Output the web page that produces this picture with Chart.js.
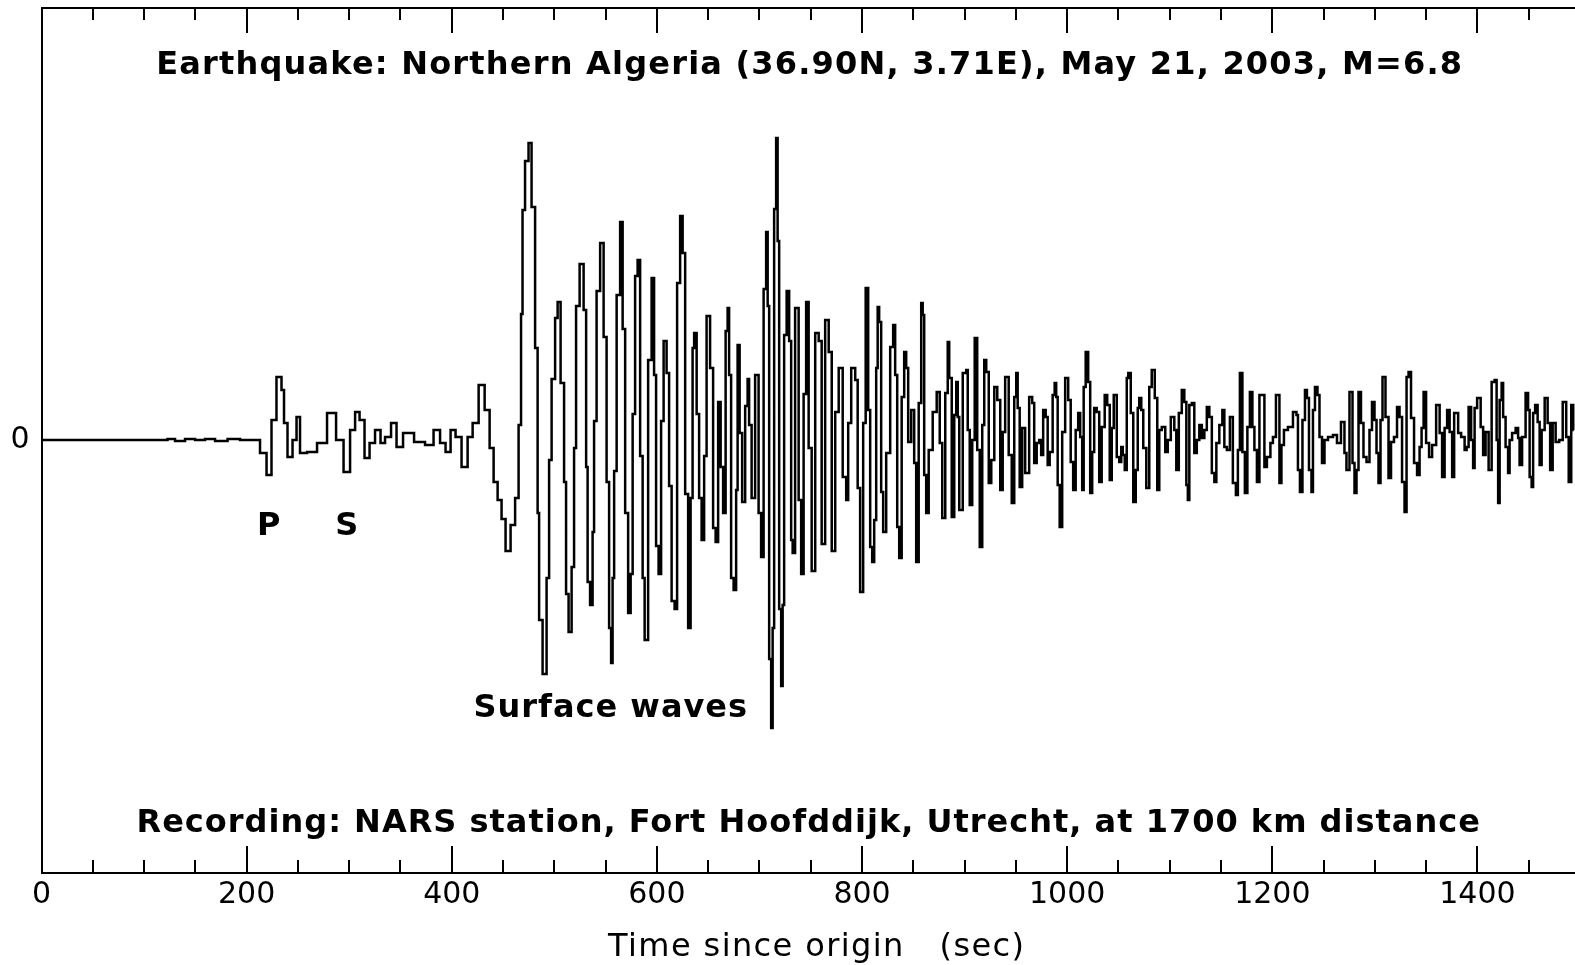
<!DOCTYPE html>
<html>
<head>
<meta charset="utf-8">
<script src="https://cdn.jsdelivr.net/npm/chart.js@4.4.0/dist/chart.umd.min.js"></script>
<style>
  html, body { margin: 0; padding: 0; background: #fff; overflow: hidden; }
  #wrap { width: 1600px; height: 965px; }
</style>
</head>
<body>
<div id="wrap"><canvas id="seismo" width="1600" height="965"></canvas></div>
<script>
// axis ranges (seconds since origin, trace amplitude in counts)
const timeMin = 0;
const timeMax = 1500;
const minorStep = 50;
const majorStep = 200;
const ampMin = -433;
const ampMax = 432;

// [time s, amplitude]
const quietRecord = [
  [0,0],[120.4,0],[125.3,1],[135.1,-1],[144.8,1],[154.6,0],[164.3,1],[174.1,-1],[188.7,1],[198.4,0],[210.1,0]
];

const bodyWaves = [
  [216.0,-13],[222.8,-35],[225.7,20],[232.5,63],[235.5,50],[237.4,17],[242.3,-17],[247.2,0],[250.1,23],[254.0,-13],
  [263.8,-12],[273.5,-3],[283.3,27],[291.1,0],[297.9,-32],[303.8,10],[307.7,28],[312.5,20],[317.4,-18],[322.3,-3],
  [328.1,10],[333.0,-3],[336.9,3],[344.7,17],[347.6,-7],[357.4,7],[369.1,-2],[378.8,-5],[385.7,10],[391.5,-3],
  [396.4,-12],[401.3,10],[406.1,3],[413.0,-27],[417.9,3],[422.8,17],[429.6,55],[434.5,30],[439.3,-8],[442.3,-42],
  [447.1,-60],[450.0,-79],[454.9,-111],[459.8,-85],[463.7,-58]
];

const surfaceWaves = [
  [466.6,15],[468.5,126],[469.5,230],[473.4,279],[476.3,297],[479.3,233],[483.2,92],[484.2,-73],[486.1,-180],[491.0,-234],
  [493.9,-138],[495.9,-20],[498.8,61],[502.7,122],[503.7,138],[508.5,57],[510.5,-42],[512.4,-154],[515.4,-192],[518.3,-127],
  [520.2,-8],[522.2,134],[527.1,176],[530.0,130],[532.0,-27],[532.9,-142],[536.8,-165],[537.8,-92],[539.7,19],[542.7,149],
  [546.6,197],[549.5,103],[552.4,-42],[554.4,-188],[556.3,-223],[557.3,-138],[559.3,-31],[562.2,145],[566.1,218],[567.1,111],
  [571.0,-73],[572.9,-173],[575.9,-134],[576.8,26],[580.7,164],[581.7,180],[585.6,-16],[586.6,-138],[589.5,-200],[593.4,80],
  [596.3,162],[598.2,65],[600.2,-106],[603.1,-134],[605.1,19],[608.0,99],[610.9,67],[612.9,-46],[615.8,-161],[618.7,-169],
  [620.7,157],[624.6,224],[625.6,187],[629.5,-54],[631.4,-188],[634.3,-58],[635.3,92],[637.3,107],[640.2,26],[642.1,-58],
  [645.1,-100],[647.0,-16],[649.9,124],[653.8,72],[655.8,-88],[658.7,-102],[660.7,38],[663.6,-27],[665.5,-73],[668.5,109],
  [669.4,132],[671.4,65],[673.3,-138],[676.3,-150],[678.2,-50],[679.2,95],[682.1,7],[684.1,-62],[688.0,34],[688.9,61],
  [690.9,15],[693.8,-58],[697.7,65],[700.6,-73],[702.6,-117],[705.5,151],[707.5,208],[708.5,134],[710.4,-219],[712.4,-288],
  [713.3,-188],[715.3,231],[717.2,302],[718.2,199],[720.2,-169],[722.1,-246],[723.1,-165],[725.0,105],[728.0,149],[729.9,99],
  [731.9,-100],[732.8,-113],[736.7,132],[739.7,-60],[741.6,-134],[744.5,46],[746.5,138],[749.4,-8],[752.4,-131],[756.3,107],
  [759.2,99],[762.1,-104],[766.0,120],[769.0,88],[771.9,-111],[775.8,28]
];

const codaEarly = [
  [778.7,72],[783.6,-37],[785.5,-60],[787.5,17],[791.4,72],[795.3,60],[796.2,-48],[800.1,-152],[802.1,17],[805.0,152],
  [807.0,30],[808.9,-107],[810.9,-122],[812.8,-80],[814.8,72],[815.7,133],[817.7,118],[819.6,-52],[821.6,-92],[825.5,-13],
  [829.4,93],[831.3,115],[833.3,65],[835.3,-87],[837.2,-118],[840.1,43],[842.1,88],[844.0,72],[846.0,-2],[849.9,30],
  [851.8,-23],[853.8,-122],[856.7,37],[858.7,137],[859.6,125],[861.6,-35],[863.5,-73],[866.5,-10],[871.3,28],[874.3,48],
  [877.2,-3],[879.2,-78],[883.1,47],[884.0,98],[886.0,62],[888.9,-77],[890.9,25],[892.8,58],[893.8,23],[895.8,-70],
  [900.6,67],[902.6,70],[903.5,10],[906.5,-65],[908.4,0],[911.3,102],[913.3,-10],[916.2,-107],[918.2,15],[920.1,80],
  [922.1,68],[925.0,-43],[927.0,-20],[930.9,53],[932.8,40],[936.7,-50],[937.6,8],[941.5,63],[944.5,-15],[947.4,-63],
  [949.4,43],[951.3,67],[952.2,32],[955.2,-47],[957.1,12],[961.0,-33],[964.9,43],[966.9,37],[968.8,-23],[971.8,-3]
];

const codaLate = [
  [973.7,0],[975.6,-15],[977.6,30],[980.5,23],[981.5,-25],[984.4,-12],[987.3,45],[988.3,57],[990.3,43],[991.2,-45],
  [994.2,-87],[996.1,8],[1000.0,62],[1002.0,40],[1004.9,-22],[1006.8,-50],[1009.8,10],[1011.7,27],[1013.7,3],[1015.6,-50],
  [1016.6,53],[1019.5,88],[1021.5,58],[1023.4,-53],[1025.4,-12],[1027.3,32],[1030.3,28],[1032.2,-42],[1035.1,13],[1038.1,45],
  [1040.0,35],[1043.0,-40],[1043.9,12],[1046.9,45],[1049.8,-17],[1051.8,-22],[1053.7,-7],[1054.7,-15],[1057.6,-30],[1058.6,62],
  [1060.5,67],[1063.5,27],[1065.4,-62],[1068.3,-30],[1069.3,32],[1071.3,42],[1073.2,30],[1075.2,-8],[1079.1,-48],[1081.0,53],
  [1083.9,70],[1086.9,42],[1088.8,-50],[1090.8,10],[1093.7,13],[1097.6,-12],[1098.6,0],[1103.5,23],[1105.4,10],[1107.4,-30],
  [1110.3,27],[1113.2,50],[1115.2,38],[1117.2,-45],[1118.1,-60],[1120.1,35],[1123.0,37],[1124.9,-13],[1127.9,0],[1129.8,15],
  [1132.8,2],[1134.7,10],[1137.6,33],[1139.6,23],[1142.5,-33],[1144.5,-42],[1146.4,-3],[1150.3,15],[1152.3,30],[1154.2,-7],
  [1157.2,-10],[1160.1,23],[1163.0,-43],[1166.0,-55],[1166.9,-10],[1169.9,67],[1171.8,-12],[1174.7,-53],[1176.7,13],[1179.6,48],
  [1181.6,13],[1183.5,-10],[1186.5,-42],[1188.4,45],[1191.3,45],[1193.3,-27],[1196.2,-17],[1200.1,-3],[1201.1,3],[1206.0,45],
  [1207.9,-43],[1209.9,-5],[1212.8,10],[1217.7,13],[1222.6,28],[1224.5,25],[1225.5,-30],[1228.4,-52],[1230.4,20],[1233.3,50],
  [1234.3,42],[1237.2,-30],[1239.2,-52],[1240.1,30],[1243.1,53],[1245.0,45],[1247.0,3],[1249.9,-23],[1251.9,0],[1256.7,3],
  [1261.6,5],[1264.5,-3],[1269.4,18],[1271.3,-13],[1273.3,-30],[1277.2,48],[1279.2,-23],[1281.1,-53],[1283.1,-30],[1285.0,48],
  [1287.9,17],[1289.9,-17],[1293.8,-22],[1295.7,10],[1298.7,38],[1300.6,20],[1302.6,-13],[1304.5,-43],[1306.5,20],[1308.4,63],
  [1312.3,23],[1314.3,-38],[1317.2,-2],[1320.1,3],[1323.1,33],[1325.0,23],[1328.0,-42],[1329.9,-72],[1331.9,63],[1333.8,68],
  [1336.7,22],[1339.7,-23],[1342.6,-35],[1344.6,-7],[1346.5,12],[1348.5,48],[1351.4,-3],[1354.3,-17],[1357.3,-5],[1362.2,35],
  [1364.1,7],[1367.0,-37],[1369.0,12],[1371.9,30],[1373.9,8],[1376.8,-37],[1377.8,27],[1380.7,27],[1381.7,7],[1386.5,3],
  [1388.5,-10],[1390.4,-7],[1392.4,33],[1395.3,0],[1396.3,-28],[1398.2,32],[1401.2,42],[1405.1,13],[1406.0,-15],[1409.9,8],
  [1411.9,-30],[1415.8,58],[1417.7,60],[1419.7,0],[1420.7,-63],[1422.6,40],[1424.6,57],[1425.5,23],[1429.4,-7],[1430.4,-33],
  [1432.3,0],[1435.3,7],[1439.2,12],[1440.1,2],[1442.1,-25],[1445.0,3],[1448.9,47],[1449.9,30],[1451.9,-37],[1453.8,-47],
  [1454.8,27],[1457.7,35],[1459.7,18],[1461.6,-25],[1463.6,10],[1467.5,42],[1469.4,17],[1472.4,-30],[1474.3,17],[1478.2,-2],
  [1481.2,0],[1485.1,38],[1488.0,3],[1490.0,-42],[1492.9,35],[1493.9,10]
];

const titleText = 'Earthquake: Northern Algeria (36.90N, 3.71E), May 21, 2003, M=6.8';
const captionText = 'Recording: NARS station, Fort Hoofddijk, Utrecht, at 1700 km distance';
const axisTitle = 'Time since origin   (sec)';
const phaseNotes = ['P', 'S', 'Surface waves'];

const trace = [...quietRecord, ...bodyWaves, ...surfaceWaves, ...codaEarly, ...codaLate]
  .map(p => ({ x: p[0], y: p[1] }));

// inward tick marks, headings and phase labels
const frame = {
  id: 'frame',
  afterDraw(chart) {
    const { ctx, chartArea: area, scales: { x, y } } = chart;
    ctx.save();
    ctx.strokeStyle = '#000';
    ctx.lineWidth = 2;
    ctx.beginPath();
    x.ticks.forEach(tk => {
      const px = Math.round(x.getPixelForValue(tk.value));
      const major = tk.value % majorStep === 0;
      ctx.moveTo(px, area.bottom);
      ctx.lineTo(px, area.bottom - (major ? 27 : 13));
      ctx.moveTo(px, area.top);
      ctx.lineTo(px, area.top + (major ? 25 : 12));
    });
    ctx.stroke();

    ctx.fillStyle = '#000';
    ctx.textAlign = 'center';
    ctx.textBaseline = 'alphabetic';
    ctx.letterSpacing = '1.2px';
    ctx.font = 'bold 32px "DejaVu Sans"';
    ctx.fillText(titleText, x.getPixelForValue(749), y.getPixelForValue(366));
    ctx.letterSpacing = '1px';
    ctx.fillText(captionText, x.getPixelForValue(748), y.getPixelForValue(-392));
    ctx.fillText(phaseNotes[0], x.getPixelForValue(222), y.getPixelForValue(-95));
    ctx.fillText(phaseNotes[1], x.getPixelForValue(298), y.getPixelForValue(-95));
    ctx.fillText(phaseNotes[2], x.getPixelForValue(555), y.getPixelForValue(-277));

    ctx.letterSpacing = '1.4px';
    ctx.font = '32px "DejaVu Sans"';
    ctx.fillText(axisTitle, (area.left + area.right) / 2 + 6, area.bottom + 83);
    ctx.restore();
  }
};

const tickFont = { family: 'DejaVu Sans', size: 30 };

new Chart(document.getElementById('seismo'), {
  type: 'line',
  data: {
    datasets: [{
      data: trace,
      borderColor: '#000',
      borderWidth: 2.5,
      pointRadius: 0,
      stepped: 'middle',
      fill: false
    }]
  },
  options: {
    responsive: false,
    animation: false,
    events: [],
    layout: { padding: { right: 20 } },
    plugins: { legend: { display: false }, tooltip: { enabled: false } },
    scales: {
      x: {
        type: 'linear',
        position: 'bottom',
        min: timeMin,
        max: timeMax,
        afterBuildTicks: s => {
          const list = [];
          for (let v = timeMin; v <= timeMax; v += minorStep) list.push({ value: v });
          s.ticks = list;
        },
        afterFit: s => { s.height = 92; },
        ticks: {
          autoSkip: false,
          maxRotation: 0,
          padding: 4,
          color: '#000',
          font: tickFont,
          callback: v => (v % majorStep === 0 ? String(v) : '')
        },
        grid: { display: false, drawTicks: false },
        border: { display: true, color: '#000', width: 2 }
      },
      xTop: {
        type: 'linear',
        position: 'top',
        min: timeMin,
        max: timeMax,
        afterFit: s => { s.height = 8; },
        ticks: { display: false },
        grid: { display: false, drawTicks: false },
        border: { display: true, color: '#000', width: 2 }
      },
      y: {
        type: 'linear',
        position: 'left',
        min: ampMin,
        max: ampMax,
        afterBuildTicks: s => { s.ticks = [{ value: 0 }]; },
        afterFit: s => {
          s.width = 41.5;
          s.paddingTop = 0;
          s.paddingBottom = 0;
        },
        ticks: { padding: 12, color: '#000', font: tickFont, callback: v => String(v) },
        grid: { display: false, drawTicks: false },
        border: { display: true, color: '#000', width: 2 }
      }
    }
  },
  plugins: [frame]
});
</script>
</body>
</html>
